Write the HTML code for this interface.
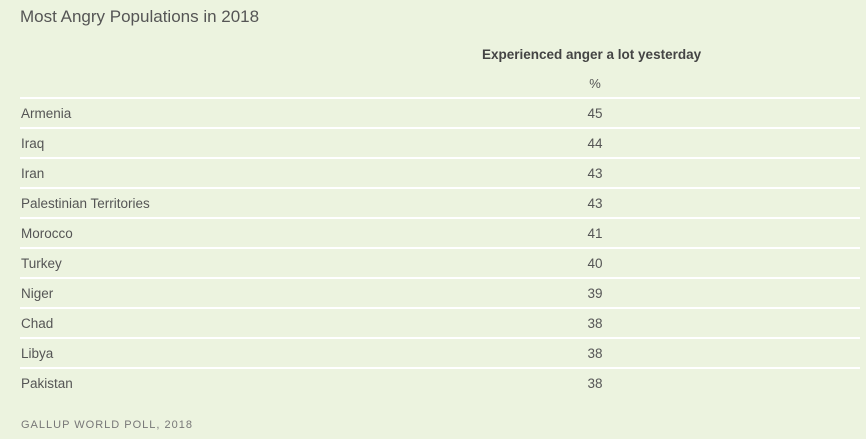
<!DOCTYPE html>
<html><head><meta charset="utf-8"><style>
body{margin:0;width:866px;height:439px;background:#ecf3df;font-family:"Liberation Sans",sans-serif;position:relative;overflow:hidden;color:#555}
.t{position:absolute;white-space:nowrap}
#title{left:20px;top:7px;font-size:17px;color:#555}
#hdr{left:482px;top:47px;font-size:13.5px;font-weight:bold;color:#444}
#pct{left:595px;top:76px;font-size:13px;transform:translateX(-50%)}
.line{position:absolute;left:20px;width:840px;height:2px;background:#fff}
.name{position:absolute;left:21px;font-size:13.5px;color:#555}
.val{position:absolute;left:595px;transform:translateX(-50%);font-size:13.5px;color:#555}
#foot{left:21px;top:419px;font-size:11px;letter-spacing:1px;color:#777}
</style></head><body>
<div class="t" id="title">Most Angry Populations in 2018</div>
<div class="t" id="hdr">Experienced anger a lot yesterday</div>
<div class="t" id="pct">%</div>
<div id="rows"></div>
<div class="t" id="foot">GALLUP WORLD POLL, 2018</div>
<script>
const countries=["Armenia","Iraq","Iran","Palestinian Territories","Morocco","Turkey","Niger","Chad","Libya","Pakistan"];
const values=[45,44,43,43,41,40,39,38,38,38];
const rows=document.getElementById('rows');
countries.forEach((c,i)=>{
  const y=98+i*30;
  const ln=document.createElement('div');ln.className='line';ln.style.top=(y-1)+'px';
  
  
  rows.appendChild(ln);
  const n=document.createElement('div');n.className='name';n.style.top=(y+8)+'px';n.textContent=c;
  
  
  rows.appendChild(n);
  const v=document.createElement('div');v.className='val';v.style.top=(y+8)+'px';v.textContent=values[i];
  
  
  rows.appendChild(v);
});
</script>
</body></html>
